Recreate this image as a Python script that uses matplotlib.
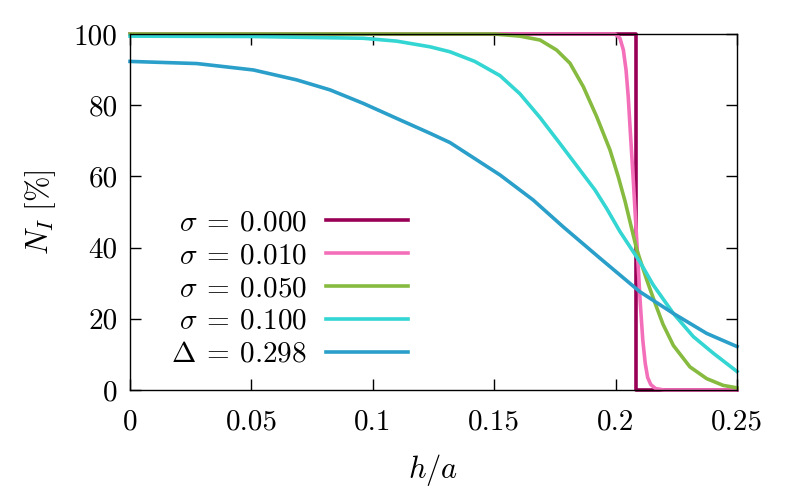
import matplotlib
matplotlib.use("Agg")
import matplotlib.pyplot as plt

# curve readings (h/a, N_I in %)
h_s000 = [0.0, 0.2085, 0.2085, 0.25]
n_s000 = [100, 100, 0, 0]

h_s010 = [0.0, 0.195, 0.1998, 0.2018, 0.2032, 0.2043, 0.2052, 0.2062, 0.2072,
          0.2082, 0.2092, 0.2102, 0.2112, 0.2122, 0.2132, 0.2145, 0.2165, 0.22, 0.25]
n_s010 = [100, 100, 100, 98.8, 95.5, 89.9, 82.4, 71, 60, 48, 36, 24, 14, 7.5,
          3.5, 1.5, 0.4, 0, 0]

h_s050 = [0.0, 0.15, 0.1606, 0.1689, 0.1757, 0.1812, 0.1867, 0.1922, 0.1977,
          0.2011, 0.2039, 0.2087, 0.2128, 0.2162, 0.2195, 0.2238, 0.2306, 0.2375,
          0.2443, 0.25]
n_s050 = [100, 100, 99.4, 98.3, 95.5, 91.8, 85.2, 76.8, 67.4, 59.9, 53, 39.5,
          31, 24.5, 18.5, 12.5, 6.5, 3.2, 1.3, 0.6]

h_s100 = [0.0, 0.05, 0.0961, 0.1098, 0.1236, 0.1318, 0.142, 0.1524, 0.1606,
          0.1689, 0.177, 0.1853, 0.1915, 0.1963, 0.2018, 0.21, 0.2155, 0.2238,
          0.232, 0.2403, 0.25]
n_s100 = [99.4, 99.3, 98.8, 98, 96.4, 95.0, 92.3, 88.3, 83.2, 76.5, 69.3, 61.8,
          56.2, 51, 44.5, 36, 29.5, 21.5, 15, 10.3, 5.2]

h_d298 = [0.0, 0.0275, 0.0508, 0.0687, 0.0824, 0.0961, 0.1098, 0.1236, 0.1318,
          0.1524, 0.166, 0.1783, 0.1936, 0.21, 0.2238, 0.2375, 0.25]
n_d298 = [92.3, 91.7, 89.9, 87.1, 84.3, 80.5, 76.3, 72.1, 69.5, 60.4, 53.4,
          45.9, 37, 27.6, 21.5, 15.9, 12.2]

labels = [r'$\sigma\:=\:0.000$', r'$\sigma\:=\:0.010$', r'$\sigma\:=\:0.050$',
          r'$\sigma\:=\:0.100$', r'$\Delta\:=\:0.298$']
colors = ['#990055', '#f46fba', '#86bb40', '#33d6d2', '#2a9fc9']

xticks = [0, 0.05, 0.1, 0.15, 0.2, 0.25]
xticklabels = ['0', '0.05', '0.1', '0.15', '0.2', '0.25']
yticks = [0, 20, 40, 60, 80, 100]

plt.rcParams['font.family'] = 'serif'
plt.rcParams['font.serif'] = ['cmr10']
plt.rcParams['mathtext.fontset'] = 'cm'
plt.rcParams['axes.unicode_minus'] = False

fig = plt.figure(figsize=(7.89, 4.93), dpi=100)
ax = fig.add_axes([130 / 789, 1 - 390 / 493, 607 / 789, 356 / 493])

series = [(h_s000, n_s000), (h_s010, n_s010), (h_s050, n_s050),
          (h_s100, n_s100), (h_d298, n_d298)]
for (h, n), lab, c in zip(series, labels, colors):
    ax.plot(h, n, color=c, lw=2.6, label=lab, clip_on=False,
            solid_joinstyle='round')

ax.set_xlim(0, 0.25)
ax.set_ylim(0, 100)
ax.set_xticks(xticks)
ax.set_xticklabels(xticklabels)
ax.set_yticks(yticks)
ax.tick_params(direction='in', length=8, width=1, top=True, right=True,
               labelsize=21)
ax.tick_params(axis='y', pad=9)
ax.tick_params(axis='x', pad=14)
for s in ax.spines.values():
    s.set_linewidth(1.0)

ax.set_xlabel(r'$h/a$', fontsize=22, labelpad=12)
ax.set_ylabel(r'$N_I\ [\%]$', fontsize=22, labelpad=11)

ax.legend(loc='center', bbox_to_anchor=(0.263, 0.284), frameon=False,
          markerfirst=False, fontsize=21, handlelength=2.8, labelspacing=0.22,
          handletextpad=0.65, borderpad=0)

fig.savefig('out.png', dpi=100)
